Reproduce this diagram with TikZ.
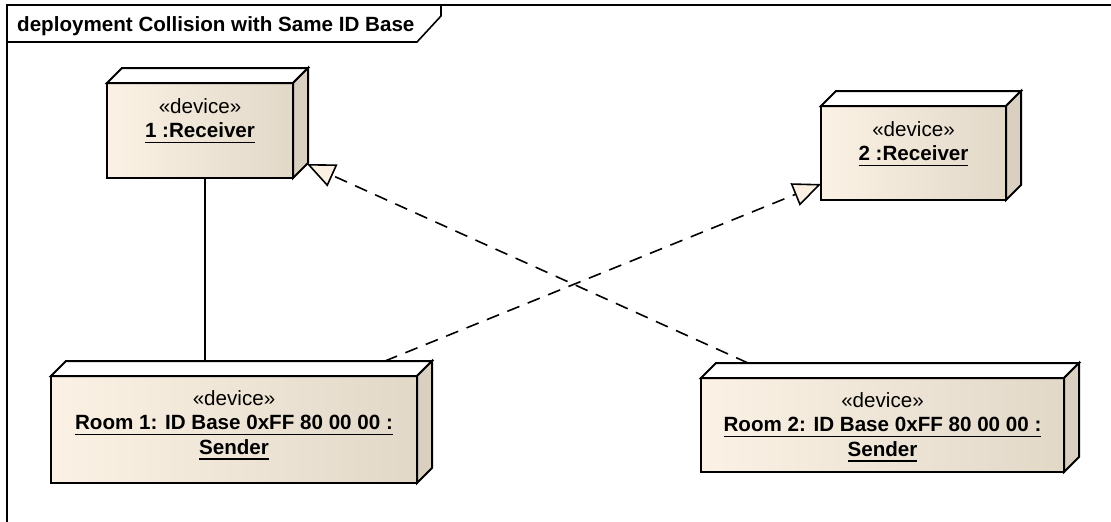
\documentclass[tikz,border=0pt]{standalone}
\usepackage{fontspec}
\setmainfont{Liberation Sans}
\usetikzlibrary{arrows.meta}

\definecolor{faceleft}{HTML}{FBF2E5}
\definecolor{faceright}{HTML}{E2D8C8}
\definecolor{sidecol}{HTML}{D9D0C1}
\definecolor{tipfill}{HTML}{FBF1E3}

% underlined name text with a thick rule
\newcommand\devul[1]{\setbox0\hbox{#1}\rlap{\rule[-5.5pt]{\wd0}{1.6pt}}\box0}

% top and side faces of a 3D device box whose front face is node #1
\newcommand\devsides[1]{%
  \filldraw[boxedge, fill=white] (#1.north west) -- ++(15pt,15pt)
    -- ([shift={(15pt,15pt)}]#1.north east) -- (#1.north east) -- cycle;
  \filldraw[boxedge, fill=sidecol] (#1.north east) -- ++(15pt,15pt)
    -- ([shift={(15pt,15pt)}]#1.south east) -- (#1.south east) -- cycle;}

\tikzset{
  boxedge/.style={draw=black, line width=2pt, line join=miter},
  devface/.style={rectangle, boxedge, left color=faceleft, right color=faceright,
    inner sep=0pt, outer sep=0pt, anchor=north west},
  devtext/.style={align=center, inner sep=0pt, anchor=north,
    font=\fontsize{20.6}{24.5}\selectfont},
  realize/.style={line width=1.6pt, dash pattern=on 13pt off 9pt,
    -{Triangle[length=28pt, width=24pt, fill=tipfill]}},
  link/.style={line width=1.6pt},
}

\begin{document}
\begin{tikzpicture}[x=1pt, y=-1pt]
  \useasboundingbox (0,0) rectangle (1111,522);
  \fill[white] (0,0) rectangle (1111,522);

  % diagram frame with its name tab
  \begin{scope}
    \clip (0,0) rectangle (1111,522);
    \draw[line width=1.6pt] (7,5) rectangle (1125,540);
  \end{scope}
  \draw[line width=1.6pt] (7,42) -- (417,42) -- (441,16) -- (441,5);
  \node[anchor=base west, inner sep=0pt, font=\fontsize{20.6}{24}\selectfont\bfseries]
    (title) at (17,31.5) {deployment Collision with Same ID Base};

  % device boxes
  \node[devface, minimum width=186pt, minimum height=95pt] (r1) at (107,83) {};
  \devsides{r1}
  \node[devtext] (r1t) at ([yshift=-15pt]r1.north)
    {«device»\\\devul{\bfseries 1 :Receiver}};

  \node[devface, minimum width=185pt, minimum height=94pt] (r2) at (821,106) {};
  \devsides{r2}
  \node[devtext] (r2t) at ([yshift=-15pt]r2.north)
    {«device»\\\devul{\bfseries 2 :Receiver}};

  \node[devface, minimum width=366pt, minimum height=107pt] (s1) at (51,376) {};
  \devsides{s1}
  \node[devtext] (s1t) at ([yshift=-14pt]s1.north)
    {«device»\\\devul{\bfseries Room 1: ID Base 0xFF 80 00 00 :}\\\devul{\bfseries Sender}};

  \node[devface, minimum width=363pt, minimum height=94pt] (s2) at (701,378) {};
  \devsides{s2}
  \node[devtext] (s2t) at ([yshift=-14pt]s2.north)
    {«device»\\\devul{\bfseries Room 2: ID Base 0xFF 80 00 00 :}\\\devul{\bfseries Sender}};

  % connectors
  \coordinate (s1top) at ([yshift=15pt]s1.north);
  \draw[link] ([xshift=5pt]r1.south) -- ([xshift=5pt]r1.south |- s1top);
  \draw[realize] ([shift={(-32pt,15pt)}]s1.north east) -- ([yshift=16pt]r2.south west);
  \draw[realize] ([shift={(47pt,15pt)}]s2.north west) -- ([shift={(14pt,14pt)}]r1.south east);
\end{tikzpicture}
\end{document}
